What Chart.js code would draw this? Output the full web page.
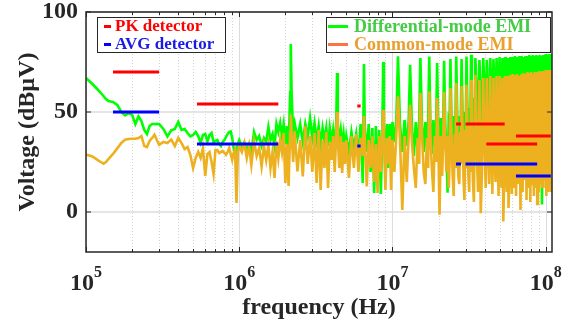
<!DOCTYPE html>
<html>
<head>
<meta charset="utf-8">
<script src="https://cdn.jsdelivr.net/npm/chart.js@4.4.1/dist/chart.umd.min.js"></script>
<style>
  body { margin: 0; background: #fff; }
  #wrap { position: relative; width: 570px; height: 329px; }
  .box { position: absolute; background: #fff; border: 1px solid #262626; box-sizing: border-box; }
  .sw { position: absolute; height: 3px; }
  .lbl { position: absolute; white-space: nowrap; font-family: "Liberation Serif", serif; font-weight: bold; line-height: 18px; }
</style>
</head>
<body>
<div id="wrap">
  <canvas id="emiChart" width="570" height="329"></canvas>

  <div class="box" style="left:97px;top:17px;width:129px;height:36px"></div>
  <div class="sw" style="left:104px;top:25px;width:7px;background:#ff0000"></div>
  <span class="lbl" style="left:115px;top:17px;font-size:17px;color:#ff0000">PK detector</span>
  <div class="sw" style="left:104px;top:43px;width:7px;background:#0000ff"></div>
  <span class="lbl" style="left:115px;top:35px;font-size:17px;color:#1a1ae6">AVG detector</span>

  <div class="box" style="left:326px;top:17px;width:225px;height:36px"></div>
  <div class="sw" style="left:328px;top:25px;width:20px;background:#00ff00"></div>
  <span class="lbl" style="left:354px;top:17px;font-size:18px;color:#44cc44">Differential-mode EMI</span>
  <div class="sw" style="left:328px;top:43px;width:20px;background:#ff7043"></div>
  <span class="lbl" style="left:354px;top:35px;font-size:18px;color:#e8a030">Common-mode EMI</span>
</div>

<script>
// measured spectrum, frequency in MHz, levels in dBuV
const freqMHz = [
  // 0.1 - 1 MHz
  0.10, 0.105, 0.11, 0.115, 0.12, 0.125, 0.13, 0.135, 0.14, 0.15,
  0.16, 0.17, 0.18, 0.19, 0.20, 0.21, 0.22, 0.23, 0.24, 0.25,
  0.26, 0.27, 0.28, 0.29, 0.30, 0.32, 0.34, 0.36, 0.38, 0.40,
  0.42, 0.44, 0.46, 0.48, 0.50, 0.52, 0.54, 0.56, 0.58, 0.60,
  0.62, 0.64, 0.66, 0.68, 0.70, 0.72, 0.74, 0.76, 0.78, 0.80,
  0.82, 0.84, 0.86, 0.88, 0.90, 0.92, 0.94, 0.96, 0.98,
  // 1 - 10 MHz
  1.00, 1.04, 1.08, 1.12, 1.16, 1.20, 1.25, 1.30, 1.35, 1.40,
  1.45, 1.50, 1.55, 1.60, 1.65, 1.70, 1.75, 1.80, 1.85, 1.90,
  1.95, 2.00, 2.05, 2.10, 2.15, 2.17, 2.20, 2.25, 2.30, 2.40,
  2.50, 2.60, 2.70, 2.80, 2.90, 3.00, 3.10, 3.20, 3.30, 3.40,
  3.50, 3.60, 3.70, 3.80, 3.90, 4.00, 4.10, 4.20, 4.30, 4.35,
  4.40, 4.50, 4.60, 4.70, 4.80, 4.90, 5.00, 5.20, 5.40, 5.60,
  5.80, 6.00, 6.20, 6.40, 6.52, 6.60, 6.80, 7.00, 7.20, 7.40,
  7.60, 7.80, 8.00, 8.20, 8.40, 8.60, 8.70, 8.80, 9.00, 9.20,
  9.40, 9.60, 9.80,
  // 10 - 35 MHz
  10.0, 10.3, 10.6, 10.87, 11.2, 11.6, 12.0, 12.4, 12.75, 13.04,
  13.4, 13.8, 14.2, 14.6, 14.95, 15.22, 15.6, 16.0, 16.4, 16.8,
  17.1, 17.39, 17.7, 18.1, 18.5, 18.9, 19.3, 19.57, 19.9, 20.3,
  20.7, 21.1, 21.45, 21.74, 22.1, 22.5, 22.9, 23.3, 23.6, 23.91,
  24.3, 24.7, 25.1, 25.5, 25.8, 26.09, 26.5, 26.9, 27.3, 27.7,
  27.95, 28.26, 28.7, 29.1, 29.5, 29.9, 30.15, 30.43, 30.9, 31.3,
  31.7, 32.1, 32.35, 32.61, 33.0, 33.5, 34.0, 34.5,
  // 35 - 60 MHz
  34.78, 35.5, 36.2, 36.96, 37.7, 38.4, 39.13, 39.9, 40.6, 41.3,
  42.0, 42.8, 43.5, 44.2, 44.9, 45.65, 46.4, 47.1, 47.8, 48.5,
  49.3, 50.0, 50.7, 51.5, 52.2, 52.9, 53.6, 54.3, 55.0, 55.8,
  56.5, 57.2, 58.0, 58.7, 59.4, 60.2,
  // 60 - 110 MHz
  60.9, 62.0, 63.0, 64.1, 65.2, 66.3, 67.4, 68.5, 69.6, 70.7,
  71.7, 72.8, 73.9, 75.0, 76.1, 77.2, 78.3, 79.4, 80.4, 81.5,
  82.6, 83.7, 84.8, 85.9, 87.0, 88.1, 89.1, 90.2, 91.3, 92.4,
  93.5, 94.6, 95.7, 96.8, 97.8, 98.9, 100.0, 101.1, 102.2, 103.3,
  104.3, 105.4, 106.5, 107.6, 108.7, 109.8
];

const dmEMI = [
  67, 65.5, 64, 62.5, 61, 59.5, 58, 56.5, 55.5, 55,
  53.6, 50, 48.3, 49.5, 48.6, 44, 47.8, 45.5, 41, 39,
  43, 44, 44, 44, 44, 41.5, 37.8, 40.8, 41.5, 45,
  41, 41.5, 39.5, 37.8, 38.5, 40, 38, 34.5, 38.5, 39,
  35.3, 38.5, 39.5, 35, 35.5, 36, 34, 33, 35, 36,
  37.5, 39, 40, 40.3, 37, 32, 28.5, 31, 34,

  36, 33, 35, 31, 34, 30, 40, 36, 38, 33,
  37, 35, 42.5, 36, 39, 33, 44, 40, 44.5, 38,
  44, 34, 43, 30, 60, 84, 58, 40, 44.5, 37,
  44, 35, 44, 38, 47, 37, 44.5, 36, 43, 34,
  42, 36, 42, 33, 42, 35, 41, 32, 45, 69.5,
  44, 35, 41, 33, 39, 31, 38, 30, 40, 32,
  39, 28, 44, 14.5, 74, 42, 30, 44, 20, 42,
  9.5, 43, 12, 41, 9, 42, 75, 43, 20, 44,
  22, 44, 25,

  45, 35, 46, 77.8, 44, 30, 46, 33, 45, 73.6,
  43, 28, 45, 30, 46, 77, 44, 30, 45, 32,
  46, 77.8, 45, 29, 46, 33, 45, 74.5, 44, 30,
  47, 31, 46, 75.6, 45, 31, 9.6, 47, 46, 76.5,
  46, 32, 48, 30, 47, 77.8, 47, 30, 48, 32,
  49, 76.5, 48, 31, 50, 33, 50, 77.8, 50, 30,
  52, 33, 54, 78.6, 55, 30, 57, 35,

  77, 60, 45, 76, 58, 40, 77, 62, 40, 76,
  60, 38, 77, 62, 42, 76.5, 60, 40, 77, 62,
  38, 77.5, 60, 40, 77, 60, 40, 77.5, 60, 36,
  77, 62, 40, 77.5, 60, 38,

  77.5, 30, 78, 32, 77.5, 28, 78, 30, 78, 32,
  77.5, 30, 78, 34, 78, 30, 78.5, 32, 78, 30,
  78.5, 33, 78, 30, 78.5, 34, 78, 30, 78.5, 32,
  78, 3.7, 78.5, 34, 78.5, 30, 79, 32, 78.5, 31,
  79, 30, 79, 32, 79, 17
];

const cmEMI = [
  28.7, 28.3, 27.8, 26.8, 25.8, 25, 24.2, 25, 26.5, 29,
  31.8, 34.5, 36.2, 36.5, 36.6, 36.6, 37, 38, 33, 32.5,
  35.5, 37, 38.6, 36, 33.6, 35, 34.5, 36.2, 33, 37,
  34.5, 31.5, 32.5, 28.5, 22, 27, 30, 27, 32, 18,
  29, 30, 25, 19, 31, 31, 29.5, 30, 30.5, 29.5,
  28.6, 30, 32, 29, 26, 29.5, 31, 4.5, 30,

  33, 30, 34.5, 27, 33, 23.6, 35.3, 28, 32, 22.8,
  33, 26, 33.6, 22, 30, 17, 35.3, 27, 36, 30,
  39.5, 14.5, 34, 13, 40, 48.6, 38, 25, 40.3, 20.3,
  36, 17.8, 42.8, 24, 38, 20, 39.5, 14.5, 41, 11,
  36, 22, 40, 12, 35, 26, 38, 20, 40, 50,
  36, 22, 37.8, 19.5, 35, 24, 36, 17, 38, 22,
  39, 20, 37, 28, 48, 35, 12.8, 36, 22, 37.8,
  15, 34, 9.5, 38, 20, 39, 51, 36, 11, 37,
  24, 38, 11,

  36, 20, 38, 57.8, 36, 1, 38, 15, 37, 53.6,
  35, 22, 12, 37, 24, 59.5, 38, 20, 14, 37,
  22, 60.3, 39, 21, 10, 38, 25, 57, 37, -1.4,
  38, 18, 36, 60, 38, 20, 38, 12, 24, 62,
  39, 19, 8, 39, 22, 64.5, 40, 18, 14, 40,
  24, 63, 40, 17, 6, 41, 22, 63.6, 42, 18,
  10, 43, 20, 66, 45, 16, 5, 46,

  68.6, 30, 10, 66, -0.6, 20, 67, 35, 12, 67,
  30, 14, 68, 32, 9, 67, 28, 15, 68, 34,
  8, 68, 30, 12, 67, -4.7, 16, 68, 28, 10,
  68, 2, 18, 68.5, 30, 9,

  69, 12, 68.5, 8, 69, 14, 68, 1, 69, 10,
  69.5, 16, 69, 6, 70, 12, 69.5, 5, 70, 14,
  69, 8, 70, 12, 70, 4, 70, 10, 70.5, 14,
  70, 12, 70.5, 12, 70, 16, 71, 8, 70.5, 10,
  71, 14, 71, 10, 71, 18
];

// limit bands (MHz) and detector limits (dBuV)
const limitStart = [0.15, 0.53, 5.9, 26, 30, 41, 64, 76];
const limitStop  = [0.30, 1.8, 6.2, 28, 54, 88, 88, 108];
const pkLimit    = [70, 54, 53, 44, 44, 34, 38, 38];
const avgLimit   = [50, 34, 33, 24, 24, 24, 18, 18];

const xTickExp = [5, 6, 7, 8];
const yTicks = [0, 50, 100];

const FONT = '"Liberation Serif", "Times New Roman", serif';
const AXIS = '#262626';

function seriesPoints(vals) {
  return freqMHz.map((f, i) => ({ x: f * 1e6, y: vals[i] }));
}

function limitPoints(levels) {
  const pts = [];
  limitStart.forEach((f0, i) => {
    pts.push({ x: f0 * 1e6, y: levels[i] });
    pts.push({ x: limitStop[i] * 1e6, y: levels[i] });
    pts.push({ x: limitStop[i] * 1e6, y: null });
  });
  return pts;
}

// grid, box, tick marks and 10^n labels
const framePlugin = {
  id: 'frame',
  beforeDatasetsDraw(chart) {
    const { ctx, chartArea: a, scales: { x, y } } = chart;
    ctx.save();
    ctx.lineWidth = 1;
    for (let e = 5; e <= 8; e++) {
      for (let m = 1; m <= 9; m++) {
        const v = m * Math.pow(10, e);
        if (v > x.max) break;
        const px = Math.round(x.getPixelForValue(v)) + 0.5;
        ctx.strokeStyle = m === 1 ? '#dcdcdc' : '#d4d4d4';
        ctx.setLineDash(m === 1 ? [] : [1, 2]);
        ctx.beginPath();
        ctx.moveTo(px, a.top);
        ctx.lineTo(px, a.bottom);
        ctx.stroke();
      }
    }
    ctx.setLineDash([]);
    ctx.strokeStyle = '#dcdcdc';
    ctx.lineWidth = 1.5;
    yTicks.forEach(v => {
      const py = y.getPixelForValue(v);
      ctx.beginPath();
      ctx.moveTo(a.left, py);
      ctx.lineTo(a.right, py);
      ctx.stroke();
    });
    ctx.restore();
  },
  afterDatasetsDraw(chart) {
    const { ctx, chartArea: a, scales: { x, y } } = chart;
    ctx.save();
    ctx.strokeStyle = AXIS;
    ctx.lineWidth = 1;
    for (let e = 5; e <= 8; e++) {
      for (let m = 1; m <= 9; m++) {
        const v = m * Math.pow(10, e);
        if (v > x.max) break;
        const px = Math.round(x.getPixelForValue(v)) + 0.5;
        const len = m === 1 ? 5 : 3;
        ctx.beginPath();
        ctx.moveTo(px, a.bottom);
        ctx.lineTo(px, a.bottom - len);
        ctx.moveTo(px, a.top);
        ctx.lineTo(px, a.top + len);
        ctx.stroke();
      }
    }
    yTicks.forEach(v => {
      const py = y.getPixelForValue(v);
      ctx.beginPath();
      ctx.moveTo(a.left, py);
      ctx.lineTo(a.left + 5, py);
      ctx.moveTo(a.right, py);
      ctx.lineTo(a.right - 5, py);
      ctx.stroke();
    });
    ctx.lineWidth = 1.5;
    ctx.strokeRect(a.left, a.top, a.right - a.left, a.bottom - a.top);

    ctx.fillStyle = AXIS;
    ctx.textBaseline = 'alphabetic';
    ctx.textAlign = 'left';
    xTickExp.forEach(e => {
      const px = x.getPixelForValue(Math.pow(10, e));
      ctx.font = 'bold 24px ' + FONT;
      const w1 = ctx.measureText('10').width;
      ctx.font = 'bold 16px ' + FONT;
      const w2 = ctx.measureText(String(e)).width;
      const x0 = px - (w1 + w2) / 2;
      ctx.font = 'bold 24px ' + FONT;
      ctx.fillText('10', x0, 290);
      ctx.font = 'bold 16px ' + FONT;
      ctx.fillText(String(e), x0 + w1, 277);
    });
    ctx.restore();
  }
};

const ctx = document.getElementById('emiChart').getContext('2d');
const emiChart = new Chart(ctx, {
  type: 'line',
  data: {
    datasets: [
      {
        label: 'PK detector',
        data: limitPoints(pkLimit),
        borderColor: '#ff0000',
        borderWidth: 3.2,
        borderCapStyle: 'butt',
        pointRadius: 0,
        spanGaps: false,
        order: 0
      },
      {
        label: 'AVG detector',
        data: limitPoints(avgLimit),
        borderColor: '#0000ff',
        borderWidth: 3.2,
        borderCapStyle: 'butt',
        pointRadius: 0,
        spanGaps: false,
        order: 1
      },
      {
        label: 'Common-mode EMI',
        data: seriesPoints(cmEMI),
        borderColor: '#edb120',
        borderWidth: 2.6,
        pointRadius: 0,
        order: 2
      },
      {
        label: 'Differential-mode EMI',
        data: seriesPoints(dmEMI),
        borderColor: '#00ff00',
        borderWidth: 2.6,
        pointRadius: 0,
        order: 3
      }
    ]
  },
  options: {
    responsive: false,
    animation: false,
    layout: { padding: { top: 12, right: 18, left: 0, bottom: 0 } },
    plugins: {
      legend: { display: false },
      tooltip: { enabled: false }
    },
    scales: {
      x: {
        type: 'logarithmic',
        min: 1e5,
        max: 1.1e8,
        grid: { display: false, drawTicks: false },
        border: { display: false },
        ticks: { display: false },
        title: {
          display: true,
          text: 'frequency (Hz)',
          color: AXIS,
          font: { family: FONT, size: 24, weight: 'bold' },
          padding: { top: 0, bottom: 7 }
        },
        afterFit(s) { s.height = 77; s.paddingLeft = 0; s.paddingRight = 0; }
      },
      y: {
        min: -20,
        max: 100,
        grid: { display: false, drawTicks: false },
        border: { display: false },
        afterBuildTicks(s) { s.ticks = yTicks.map(v => ({ value: v })); },
        ticks: {
          color: AXIS,
          padding: 8,
          font: { family: FONT, size: 24, weight: 'bold' }
        },
        title: {
          display: true,
          text: 'Voltage (dBµV)',
          color: AXIS,
          font: { family: FONT, size: 24, weight: 'bold' },
          padding: { top: 13, bottom: 0 }
        },
        afterFit(s) { s.width = 86; s.paddingTop = 0; s.paddingBottom = 0; }
      }
    }
  },
  plugins: [framePlugin]
});
</script>
</body>
</html>
